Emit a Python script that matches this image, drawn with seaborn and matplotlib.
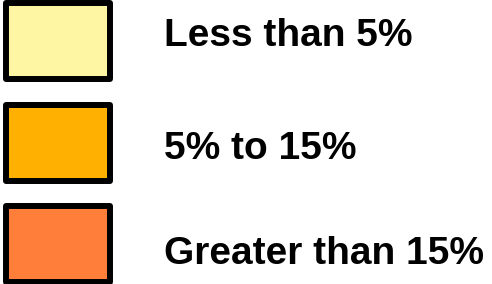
import matplotlib
matplotlib.use('Agg')
import matplotlib.pyplot as plt
import seaborn as sns
from matplotlib.patches import Rectangle

# Legend classes
categories = ['Less than 5%', '5% to 15%', 'Greater than 15%']
colors = ['#FFF6A3', '#FFB000', '#FF7F3A']

sns.set_theme(style='white')
plt.rcParams['font.family'] = ['Liberation Sans', 'DejaVu Sans']

fig = plt.figure(figsize=(4.92, 2.84), dpi=100)
ax = fig.add_axes([0, 0, 1, 1])
ax.set_xlim(0, 492)
ax.set_ylim(284, 0)
ax.axis('off')

box_tops = [3, 105, 206]
baselines = [46, 159, 264]
for i, (cat, col) in enumerate(zip(categories, colors)):
    ax.add_patch(Rectangle((6, box_tops[i]), 104, 76, facecolor=col,
                           edgecolor='black', linewidth=4.3, joinstyle='round'))
    ax.text(164, baselines[i], cat, fontsize=28, fontweight='bold',
            color='black', va='baseline', ha='left')

fig.savefig('out.png', dpi=100, facecolor='white')
